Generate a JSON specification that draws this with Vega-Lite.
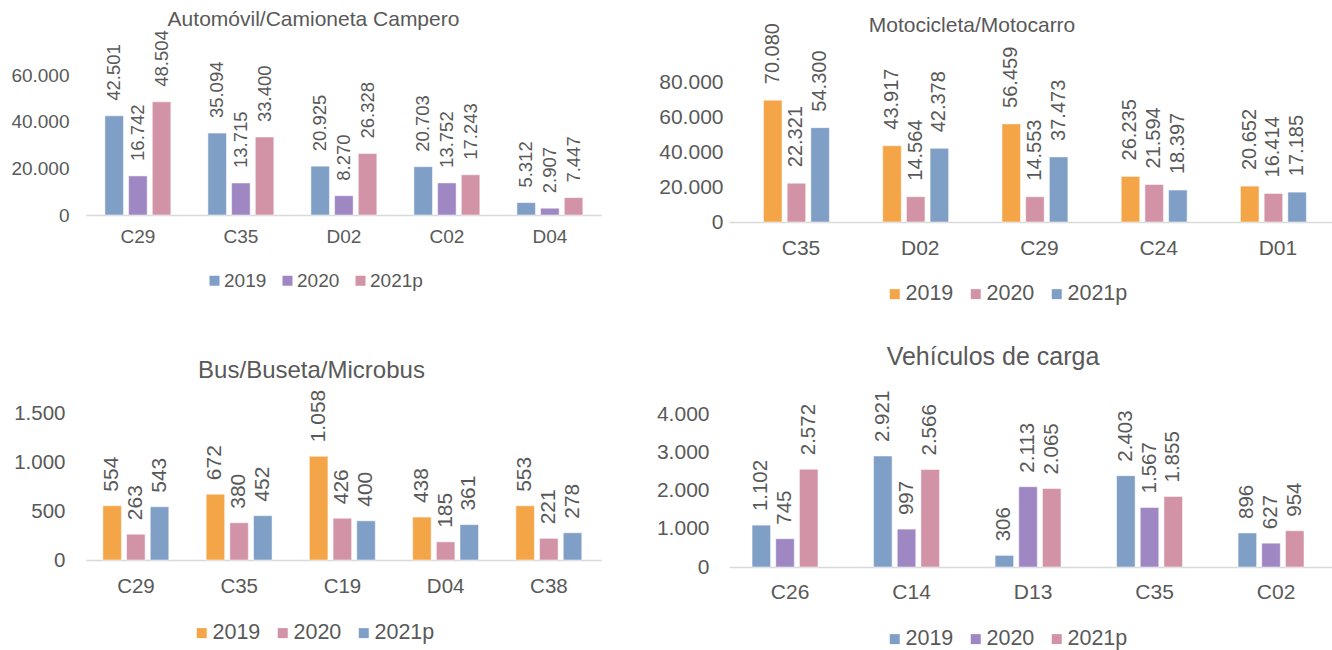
{
  "$schema": "https://vega.github.io/schema/vega-lite/v6.json",
  "background": "white",
  "padding": {"left": 10, "top": 9, "right": 0, "bottom": 0},
  "columns": 2,
  "spacing": {"column": 128, "row": 191},
  "bounds": "flush",
  "align": "each",
  "resolve": {"scale": {"color": "independent"}, "legend": {"color": "independent"}},
  "datasets": {
    "auto": [
      {"cat": "C29", "year": "2019", "value": 42501}, {"cat": "C29", "year": "2020", "value": 16742}, {"cat": "C29", "year": "2021p", "value": 48504},
      {"cat": "C35", "year": "2019", "value": 35094}, {"cat": "C35", "year": "2020", "value": 13715}, {"cat": "C35", "year": "2021p", "value": 33400},
      {"cat": "D02", "year": "2019", "value": 20925}, {"cat": "D02", "year": "2020", "value": 8270}, {"cat": "D02", "year": "2021p", "value": 26328},
      {"cat": "C02", "year": "2019", "value": 20703}, {"cat": "C02", "year": "2020", "value": 13752}, {"cat": "C02", "year": "2021p", "value": 17243},
      {"cat": "D04", "year": "2019", "value": 5312}, {"cat": "D04", "year": "2020", "value": 2907}, {"cat": "D04", "year": "2021p", "value": 7447}
    ],
    "moto": [
      {"cat": "C35", "year": "2019", "value": 70080}, {"cat": "C35", "year": "2020", "value": 22321}, {"cat": "C35", "year": "2021p", "value": 54300},
      {"cat": "D02", "year": "2019", "value": 43917}, {"cat": "D02", "year": "2020", "value": 14564}, {"cat": "D02", "year": "2021p", "value": 42378},
      {"cat": "C29", "year": "2019", "value": 56459}, {"cat": "C29", "year": "2020", "value": 14553}, {"cat": "C29", "year": "2021p", "value": 37473},
      {"cat": "C24", "year": "2019", "value": 26235}, {"cat": "C24", "year": "2020", "value": 21594}, {"cat": "C24", "year": "2021p", "value": 18397},
      {"cat": "D01", "year": "2019", "value": 20652}, {"cat": "D01", "year": "2020", "value": 16414}, {"cat": "D01", "year": "2021p", "value": 17185}
    ],
    "bus": [
      {"cat": "C29", "year": "2019", "value": 554}, {"cat": "C29", "year": "2020", "value": 263}, {"cat": "C29", "year": "2021p", "value": 543},
      {"cat": "C35", "year": "2019", "value": 672}, {"cat": "C35", "year": "2020", "value": 380}, {"cat": "C35", "year": "2021p", "value": 452},
      {"cat": "C19", "year": "2019", "value": 1058}, {"cat": "C19", "year": "2020", "value": 426}, {"cat": "C19", "year": "2021p", "value": 400},
      {"cat": "D04", "year": "2019", "value": 438}, {"cat": "D04", "year": "2020", "value": 185}, {"cat": "D04", "year": "2021p", "value": 361},
      {"cat": "C38", "year": "2019", "value": 553}, {"cat": "C38", "year": "2020", "value": 221}, {"cat": "C38", "year": "2021p", "value": 278}
    ],
    "carga": [
      {"cat": "C26", "year": "2019", "value": 1102}, {"cat": "C26", "year": "2020", "value": 745}, {"cat": "C26", "year": "2021p", "value": 2572},
      {"cat": "C14", "year": "2019", "value": 2921}, {"cat": "C14", "year": "2020", "value": 997}, {"cat": "C14", "year": "2021p", "value": 2566},
      {"cat": "D13", "year": "2019", "value": 306}, {"cat": "D13", "year": "2020", "value": 2113}, {"cat": "D13", "year": "2021p", "value": 2065},
      {"cat": "C35", "year": "2019", "value": 2403}, {"cat": "C35", "year": "2020", "value": 1567}, {"cat": "C35", "year": "2021p", "value": 1855},
      {"cat": "C02", "year": "2019", "value": 896}, {"cat": "C02", "year": "2020", "value": 627}, {"cat": "C02", "year": "2021p", "value": 954}
    ]
  },
  "concat": [
    {
      "data": {"name": "auto"},
      "width": 515, "height": 140,
      "title": {"text": "Automóvil/Camioneta Campero", "fontSize": 21, "anchor": "middle", "frame": "group", "dx": -30, "dy": 0, "offset": 0},
      "encoding": {
        "x": {"field": "cat", "type": "nominal", "sort": null, "scale": {"paddingInner": 0.36, "paddingOuter": 0.18, "align": 0.51},
              "axis": {"title": null, "labelAngle": 0, "labelFontSize": 19, "labelPadding": 12}},
        "xOffset": {"field": "year", "type": "nominal", "scale": {"paddingInner": 0.217, "paddingOuter": 0}},
        "y": {"field": "value", "type": "quantitative", "scale": {"domain": [0, 60000], "nice": false},
              "axis": {"title": null, "values": [0, 20000, 40000, 60000], "format": ",d", "labelFontSize": 19, "labelPadding": 17}}
      },
      "layer": [
        {"mark": {"type": "bar", "stroke": "#ffffff", "strokeWidth": 1, "strokeOpacity": 0.5},
         "encoding": {"color": {"field": "year", "type": "nominal", "scale": {"domain": ["2019", "2020", "2021p"], "range": ["#7F9FC6", "#9E87C3", "#D293A7"]},
                                "legend": {"orient": "none", "legendX": 119, "legendY": 196, "direction": "horizontal", "labelFontSize": 19}}}},
        {"mark": {"type": "text", "angle": 270, "align": "left", "baseline": "middle", "dx": 15, "fontSize": 18.5, "color": "#595959"},
         "encoding": {"text": {"field": "value", "type": "quantitative", "format": ",d"}}}
      ]
    },
    {
      "data": {"name": "moto"},
      "width": 604, "height": 147,
      "title": {"text": "Motocicleta/Motocarro", "fontSize": 21, "anchor": "middle", "frame": "group", "dx": -59, "dy": 13, "offset": 0},
      "encoding": {
        "x": {"field": "cat", "type": "nominal", "sort": null, "scale": {"paddingInner": 0.371, "paddingOuter": 0.218, "align": 0.663},
              "axis": {"title": null, "labelAngle": 0, "labelFontSize": 21, "labelPadding": 15}},
        "xOffset": {"field": "year", "type": "nominal", "scale": {"paddingInner": 0.22, "paddingOuter": 0}},
        "y": {"field": "value", "type": "quantitative", "scale": {"domain": [0, 84604], "nice": false},
              "axis": {"title": null, "values": [0, 20000, 40000, 60000, 80000], "format": ",d", "labelFontSize": 21, "labelPadding": 6}}
      },
      "layer": [
        {"mark": {"type": "bar", "stroke": "#ffffff", "strokeWidth": 1, "strokeOpacity": 0.5},
         "encoding": {"color": {"field": "year", "type": "nominal", "scale": {"domain": ["2019", "2020", "2021p"], "range": ["#F4A547", "#D293A7", "#7F9FC6"]},
                                "legend": {"orient": "none", "legendX": 155, "legendY": 208, "direction": "horizontal", "labelFontSize": 21.5}}}},
        {"mark": {"type": "text", "angle": 270, "align": "left", "baseline": "middle", "dx": 16, "fontSize": 20, "color": "#595959"},
         "encoding": {"text": {"field": "value", "type": "quantitative", "format": ",d"}}}
      ]
    },
    {
      "data": {"name": "bus"},
      "width": 515, "height": 147,
      "title": {"text": "Bus/Buseta/Microbus", "fontSize": 24, "anchor": "middle", "frame": "group", "dx": -32, "dy": -7, "offset": 0},
      "encoding": {
        "x": {"field": "cat", "type": "nominal", "sort": null, "scale": {"paddingInner": 0.36, "paddingOuter": 0.174, "align": 0.47},
              "axis": {"title": null, "labelAngle": 0, "labelFontSize": 20.5, "labelPadding": 16}},
        "xOffset": {"field": "year", "type": "nominal", "scale": {"paddingInner": 0.21, "paddingOuter": 0}},
        "y": {"field": "value", "type": "quantitative", "scale": {"domain": [0, 1500], "nice": false},
              "axis": {"title": null, "values": [0, 500, 1000, 1500], "format": ",d", "labelFontSize": 20.5, "labelPadding": 21}}
      },
      "layer": [
        {"mark": {"type": "bar", "stroke": "#ffffff", "strokeWidth": 1, "strokeOpacity": 0.5},
         "encoding": {"color": {"field": "year", "type": "nominal", "scale": {"domain": ["2019", "2020", "2021p"], "range": ["#F4A547", "#D293A7", "#7F9FC6"]},
                                "legend": {"orient": "none", "legendX": 105, "legendY": 209, "direction": "horizontal", "labelFontSize": 21.5}}}},
        {"mark": {"type": "text", "angle": 270, "align": "left", "baseline": "middle", "dx": 14, "fontSize": 21, "color": "#595959"},
         "encoding": {"text": {"field": "value", "type": "quantitative", "format": ",d"}}}
      ]
    },
    {
      "data": {"name": "carga"},
      "width": 604, "height": 154,
      "title": {"text": "Vehículos de carga", "fontSize": 25, "anchor": "middle", "frame": "group", "dx": -38, "dy": -21, "offset": 0},
      "encoding": {
        "x": {"field": "cat", "type": "nominal", "sort": null, "scale": {"paddingInner": 0.374, "paddingOuter": 0.1725, "align": 0.55},
              "axis": {"title": null, "labelAngle": 0, "labelFontSize": 21, "labelPadding": 14}},
        "xOffset": {"field": "year", "type": "nominal", "scale": {"paddingInner": 0.2, "paddingOuter": 0}},
        "y": {"field": "value", "type": "quantitative", "scale": {"domain": [0, 4052.6], "nice": false},
              "axis": {"title": null, "values": [0, 1000, 2000, 3000, 4000], "format": ",d", "labelFontSize": 21, "labelPadding": 20}}
      },
      "layer": [
        {"mark": {"type": "bar", "stroke": "#ffffff", "strokeWidth": 1, "strokeOpacity": 0.5},
         "encoding": {"color": {"field": "year", "type": "nominal", "scale": {"domain": ["2019", "2020", "2021p"], "range": ["#7F9FC6", "#9E87C3", "#D293A7"]},
                                "legend": {"orient": "none", "legendX": 155, "legendY": 215, "direction": "horizontal", "labelFontSize": 21.5}}}},
        {"mark": {"type": "text", "angle": 270, "align": "left", "baseline": "middle", "dx": 14, "fontSize": 20.5, "color": "#595959"},
         "encoding": {"text": {"field": "value", "type": "quantitative", "format": ",d"}}}
      ]
    }
  ],
  "config": {
    "font": "Liberation Sans",
    "locale": {"number": {"decimal": ",", "thousands": ".", "grouping": [3], "currency": ["$", ""]}},
    "view": {"stroke": null},
    "title": {"color": "#595959", "fontWeight": "normal", "font": "Liberation Sans"},
    "axis": {"labelColor": "#595959", "labelFont": "Liberation Sans", "ticks": false, "tickSize": 0, "grid": false},
    "axisX": {"domainColor": "#D9D9D9", "domainWidth": 1.5},
    "axisY": {"domain": false},
    "legend": {"title": null, "symbolType": "square", "symbolSize": 100, "symbolStrokeWidth": 0, "labelOffset": 0, "columnPadding": 11, "labelColor": "#595959", "labelFont": "Liberation Sans", "padding": 0}
  }
}
